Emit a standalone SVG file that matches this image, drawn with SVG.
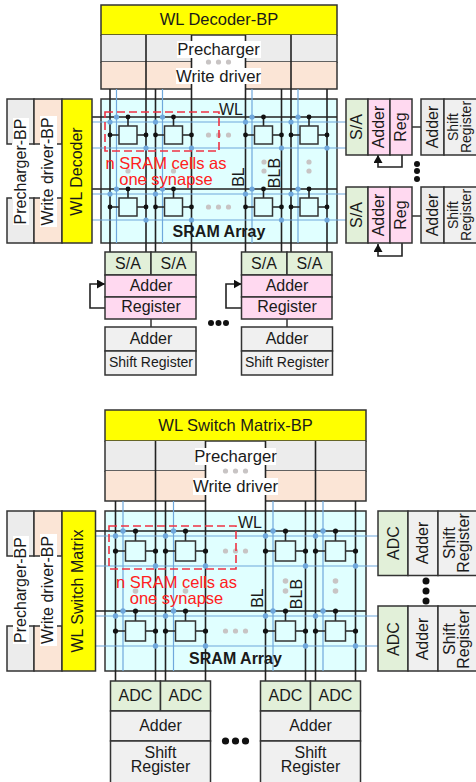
<svg xmlns="http://www.w3.org/2000/svg" width="476" height="782" viewBox="0 0 476 782">
<style>
text{font-family:"Liberation Sans",Arial,sans-serif;fill:#1a1a1a;font-size:16px;text-anchor:middle;dominant-baseline:central}
.box{stroke:#333;stroke-width:1.5}
.y{fill:#ffff00}.g{fill:#ececec}.p{fill:#fbe5d6}.gn{fill:#e2f0d9}.pk{fill:#ffd9f0}.c{fill:#e0ffff}.lg{fill:#f0f0f0}.w{fill:#fff}
.ln{stroke:#333;stroke-width:1.5;fill:none}
.bk{stroke:#222;stroke-width:1.6;fill:none}
.bl{stroke:#6fa8dc;stroke-width:1.2;fill:none}
.bd{fill:#6fa8dc}.kd{fill:#111}.gd{fill:#c8c4c4}
.red{fill:#ff2020;font-size:16.5px}
.rd{fill:none;stroke:#ee3344;stroke-width:1.6;stroke-dasharray:8 4}
.s14{font-size:14px}
.h{font-size:16.5px}
.m{font-size:16.7px}
.b{font-weight:bold}
</style>
<defs>
<marker id="arr" markerUnits="userSpaceOnUse" markerWidth="9" markerHeight="9" refX="8" refY="4.5" orient="auto"><path d="M0 0L8 4.5L0 9Z" fill="#111"/></marker>
<g id="cellA"><path class="bk" d="M0-18V-9M-18 0H-9M9 0H18"/><rect x="-9" y="-9" width="18" height="18" fill="#e0ffff" stroke="#333" stroke-width="1.5"/><circle class="kd" cx="0" cy="-18" r="2.4"/><circle class="kd" cx="-18" cy="0" r="2.4"/><circle class="kd" cx="18" cy="0" r="2.4"/></g>
<g id="cellB"><path class="bk" d="M0-20V-10M-20 0H-10M10 0H20"/><rect x="-10" y="-10" width="20" height="20" fill="#e0ffff" stroke="#333" stroke-width="1.5"/><circle class="kd" cx="0" cy="-20" r="2.6"/><circle class="kd" cx="-20" cy="0" r="2.6"/><circle class="kd" cx="20" cy="0" r="2.6"/></g>
<g id="hdotsA"><circle class="gd" cx="-10" cy="0" r="2.6"/><circle class="gd" cx="0" cy="0" r="2.6"/><circle class="gd" cx="10" cy="0" r="2.6"/></g>
<g id="blueA"><circle class="bd" cx="116.5" cy="0" r="2.6"/><circle class="bd" cx="162.5" cy="0" r="2.6"/><circle class="bd" cx="252" cy="0" r="2.6"/><circle class="bd" cx="298" cy="0" r="2.6"/><circle class="bd" cx="110" cy="5" r="2.6"/><circle class="bd" cx="155.5" cy="5" r="2.6"/><circle class="bd" cx="245.5" cy="5" r="2.6"/><circle class="bd" cx="291" cy="5" r="2.6"/><circle class="bd" cx="146" cy="31" r="2.6"/><circle class="bd" cx="191.5" cy="31" r="2.6"/><circle class="bd" cx="281.5" cy="31" r="2.6"/><circle class="bd" cx="327" cy="31" r="2.6"/></g>
<g id="blueB"><circle class="bd" cx="123" cy="0" r="2.7"/><circle class="bd" cx="173.5" cy="0" r="2.7"/><circle class="bd" cx="273" cy="0" r="2.7"/><circle class="bd" cx="323" cy="0" r="2.7"/><circle class="bd" cx="115.5" cy="5" r="2.7"/><circle class="bd" cx="165.5" cy="5" r="2.7"/><circle class="bd" cx="265.5" cy="5" r="2.7"/><circle class="bd" cx="315.5" cy="5" r="2.7"/><circle class="bd" cx="155.5" cy="35" r="2.7"/><circle class="bd" cx="205.5" cy="35" r="2.7"/><circle class="bd" cx="305.5" cy="35" r="2.7"/><circle class="bd" cx="355.5" cy="35" r="2.7"/></g>
</defs>

<!-- TOP DIAGRAM: backgrounds -->
<g id="top-array"><rect class="box c" x="101" y="99" width="236" height="144"/></g>
<g id="top-wl-decoder-bp"><rect class="box y" x="101" y="5" width="236" height="30"/></g>
<g id="top-precharger">
<rect class="g" x="101" y="35" width="91" height="27"/><rect class="g" x="245.5" y="35" width="91.5" height="27"/>
<path class="ln" d="M101 35V62H192M337 35V62H245.5"/></g>
<g id="top-write-driver">
<rect class="p" x="101" y="62" width="91" height="27"/><rect class="p" x="245.5" y="62" width="91.5" height="27"/>
<path class="ln" d="M101 62V89H192M337 62V89H245.5"/></g>

<!-- TOP connectors -->
<g id="top-connectors">
<path class="bk" d="M146 35V252M191.5 35V252M245.5 35V252M291 35V252M110 89V252M155.5 89V252M281.5 89V252M327 89V252"/>
<path class="bk" d="M92 117H337M92 189H337"/>
<path class="bl" d="M116.5 89V243M162.5 89V243M252 89V243M298 89V243"/>
<path class="bl" d="M92 122H346M92 148H346M92 194H346M92 220H346"/>
<use href="#blueA" y="117"/><use href="#blueA" y="189"/>
<path class="ln" d="M412 127H421M412 216H421M151 319V327M287 319V327"/>
<path class="bk" marker-end="url(#arr)" d="M402 155V167H378V155"/>
<path class="bk" marker-end="url(#arr)" d="M402 243V256H378V244"/>
<path class="bk" marker-end="url(#arr)" d="M105 308H90V284H105"/>
<path class="bk" marker-end="url(#arr)" d="M241.5 308H226V284H241.5"/>
</g>

<g id="top-cells">
<use href="#cellA" x="128" y="135"/><use href="#cellA" x="173.5" y="135"/><use href="#cellA" x="263.5" y="135"/><use href="#cellA" x="309" y="135"/>
<use href="#cellA" x="128" y="207"/><use href="#cellA" x="173.5" y="207"/><use href="#cellA" x="263.5" y="207"/><use href="#cellA" x="309" y="207"/>
<use href="#hdotsA" x="218.5" y="135"/><use href="#hdotsA" x="218.5" y="207"/>
<circle class="gd" cx="128" cy="171" r="2.6"/><circle class="gd" cx="173.5" cy="171" r="2.6"/>
<circle class="gd" cx="264" cy="162" r="2.6"/><circle class="gd" cx="264" cy="171" r="2.6"/><circle class="gd" cx="309" cy="162" r="2.6"/><circle class="gd" cx="309" cy="171" r="2.6"/>
</g>
<g id="top-synapse">
<rect class="rd" x="105" y="112" width="114" height="39"/>
<text class="red" x="166" y="162.5">n SRAM cells as</text>
<text class="red" x="166" y="179">one synapse</text>
</g>
<g id="top-labels">
<text x="231" y="109">WL</text>
<text x="238" y="177" transform="rotate(-90 238 177)">BL</text>
<text x="274" y="173" transform="rotate(-90 274 173)">BLB</text>
<text class="b" x="219" y="231">SRAM Array</text>
<rect class="w" x="177" y="41" width="84" height="17"/>
<rect class="w" x="176" y="68" width="85" height="16"/>
<use href="#hdotsA" x="218.5" y="62"/>
<text class="m" x="218.5" y="49">Precharger</text>
<text class="m" x="218.5" y="76">Write driver</text>
<text class="h" x="219" y="19">WL Decoder-BP</text>
</g>

<g id="top-precharger-bp">
<path class="g box" d="M12 144H7V99H34V144H29" /><path class="g box" d="M12 198H7V243H34V198H29"/>
<rect class="w" x="13" y="118" width="16" height="107"/>
<text x="20" y="171.5" transform="rotate(-90 20 171.5)">Precharger-BP</text>
</g>
<g id="top-write-driver-bp">
<path class="p box" d="M40 144H34V99H62V144H57"/><path class="p box" d="M40 198H34V243H62V198H57"/>
<rect class="w" x="40" y="116" width="17" height="111"/>
<text x="47" y="171.5" transform="rotate(-90 47 171.5)">Write driver-BP</text>
</g>
<g id="top-wl-decoder"><rect class="box y" x="62" y="99" width="30" height="144"/><text x="76" y="171.5" transform="rotate(-90 76 171.5)">WL Decoder</text></g>

<g id="top-right-1">
<rect class="box gn" x="346" y="99" width="22" height="56"/><rect class="box pk" x="368" y="99" width="22" height="56"/><rect class="box pk" x="390" y="99" width="22" height="56"/>
<text x="356" y="127" transform="rotate(-90 356 127)">S/A</text><text x="378" y="127" transform="rotate(-90 378 127)">Adder</text><text x="400" y="127" transform="rotate(-90 400 127)">Reg</text>
<rect class="box g" x="421" y="99" width="23" height="56"/><rect class="box lg" x="444" y="99" width="34" height="56"/>
<text x="432" y="127" transform="rotate(-90 432 127)">Adder</text>
<text class="s14" x="453" y="127" transform="rotate(-90 453 127)">Shift</text><text class="s14" x="466" y="127" transform="rotate(-90 466 127)">Register</text>
</g>
<g id="top-right-2">
<rect class="box gn" x="346" y="187" width="22" height="56"/><rect class="box pk" x="368" y="187" width="22" height="56"/><rect class="box pk" x="390" y="187" width="22" height="56"/>
<text x="356" y="215" transform="rotate(-90 356 215)">S/A</text><text x="378" y="215" transform="rotate(-90 378 215)">Adder</text><text x="400" y="215" transform="rotate(-90 400 215)">Reg</text>
<rect class="box g" x="421" y="187" width="23" height="56"/><rect class="box lg" x="444" y="187" width="34" height="56"/>
<text x="432" y="215" transform="rotate(-90 432 215)">Adder</text>
<text class="s14" x="453" y="215" transform="rotate(-90 453 215)">Shift</text><text class="s14" x="466" y="215" transform="rotate(-90 466 215)">Register</text>
</g>
<g id="top-right-dots"><circle class="kd" cx="417" cy="164" r="3"/><circle class="kd" cx="417" cy="171" r="3"/><circle class="kd" cx="417" cy="179" r="3"/></g>

<g id="top-bottom-1">
<rect class="box gn" x="105" y="252" width="46" height="23"/><rect class="box gn" x="151" y="252" width="45" height="23"/>
<rect class="box pk" x="105" y="275" width="91" height="22"/><rect class="box pk" x="105" y="297" width="91" height="22"/>
<rect class="box lg" x="105" y="327" width="91" height="24"/><rect class="box lg" x="105" y="351" width="91" height="24"/>
<text x="128" y="263.5">S/A</text><text x="173.5" y="263.5">S/A</text><text x="151" y="285.5">Adder</text><text x="151" y="306.5">Register</text><text x="151" y="338.5">Adder</text><text class="s14" x="151" y="362">Shift Register</text>
</g>
<g id="top-bottom-2">
<rect class="box gn" x="241.5" y="252" width="45.5" height="23"/><rect class="box gn" x="287" y="252" width="45" height="23"/>
<rect class="box pk" x="241.5" y="275" width="90.5" height="22"/><rect class="box pk" x="241.5" y="297" width="90.5" height="22"/>
<rect class="box lg" x="241.5" y="327" width="91" height="24"/><rect class="box lg" x="241.5" y="351" width="91" height="24"/>
<text x="264" y="263.5">S/A</text><text x="309.5" y="263.5">S/A</text><text x="287" y="285.5">Adder</text><text x="287" y="306.5">Register</text><text x="287" y="338.5">Adder</text><text class="s14" x="287" y="362">Shift Register</text>
</g>
<g id="top-bottom-dots"><circle class="kd" cx="211" cy="323" r="3"/><circle class="kd" cx="218.5" cy="323" r="3"/><circle class="kd" cx="226" cy="323" r="3"/></g>

<!-- BOTTOM DIAGRAM -->
<g id="bot-array"><rect class="box c" x="105" y="511" width="261" height="160"/></g>
<g id="bot-wl-bp"><rect class="box y" x="105" y="410" width="261" height="31"/></g>
<g id="bot-precharger">
<rect class="g" x="105" y="441" width="100.5" height="30"/><rect class="g" x="265.5" y="441" width="100.5" height="30"/>
<path class="ln" d="M105 441V471H205.5M366 441V471H265.5"/></g>
<g id="bot-write-driver">
<rect class="p" x="105" y="471" width="100.5" height="30"/><rect class="p" x="265.5" y="471" width="100.5" height="30"/>
<path class="ln" d="M105 471V501H205.5M366 471V501H265.5"/></g>

<g id="bot-connectors">
<path class="bk" d="M155.5 441V681M205.5 441V681M265.5 441V681M315.5 441V681M115.5 501V681M165.5 501V681M305.5 501V681M355.5 501V681"/>
<path class="bk" d="M95 531H366M95 611H366"/>
<path class="bl" d="M123 501V671M173.5 501V671M273 501V671M323 501V671"/>
<path class="bl" d="M95 536H378M95 566H378M95 616H378M95 646H378"/>
<use href="#blueB" y="531"/><use href="#blueB" y="611"/>
</g>
<g id="bot-cells">
<use href="#cellB" x="135.5" y="551"/><use href="#cellB" x="185.5" y="551"/><use href="#cellB" x="285.5" y="551"/><use href="#cellB" x="335.5" y="551"/>
<use href="#cellB" x="135.5" y="631"/><use href="#cellB" x="185.5" y="631"/><use href="#cellB" x="285.5" y="631"/><use href="#cellB" x="335.5" y="631"/>
<use href="#hdotsA" x="235.5" y="551"/><use href="#hdotsA" x="235.5" y="631"/>
<circle class="gd" cx="135.5" cy="591" r="2.8"/><circle class="gd" cx="185.5" cy="591" r="2.8"/>
<circle class="gd" cx="285.5" cy="581" r="2.8"/><circle class="gd" cx="285.5" cy="591" r="2.8"/><circle class="gd" cx="335.5" cy="581" r="2.8"/><circle class="gd" cx="335.5" cy="591" r="2.8"/>
</g>
<g id="bot-synapse">
<rect class="rd" x="109" y="526" width="127" height="43"/>
<text class="red" x="176.5" y="581.5">n SRAM cells as</text>
<text class="red" x="176.5" y="598">one synapse</text>
</g>
<g id="bot-labels">
<text x="250" y="522">WL</text>
<text x="257" y="598" transform="rotate(-90 257 598)">BL</text>
<text x="296" y="594" transform="rotate(-90 296 594)">BLB</text>
<text class="b" x="235.5" y="658">SRAM Array</text>
<rect class="w" x="195" y="448" width="81" height="17"/>
<rect class="w" x="193" y="478" width="85" height="17"/>
<use href="#hdotsA" x="235.5" y="471"/>
<text class="m" x="235.5" y="456">Precharger</text>
<text class="m" x="235.5" y="486">Write driver</text>
<text class="h" x="235.5" y="424.5">WL Switch Matrix-BP</text>
</g>

<g id="bot-precharger-bp">
<path class="g box" d="M13 556H7V511H34V556H29"/><path class="g box" d="M13 626H7V671H34V626H29"/>
<rect class="w" x="13" y="536" width="16" height="108"/>
<text x="20" y="590" transform="rotate(-90 20 590)">Precharger-BP</text>
</g>
<g id="bot-write-driver-bp">
<path class="p box" d="M40 556H34V511H62V556H57"/><path class="p box" d="M40 626H34V671H62V626H57"/>
<rect class="w" x="40" y="534" width="17" height="112"/>
<text x="47" y="590" transform="rotate(-90 47 590)">Write driver-BP</text>
</g>
<g id="bot-wl-switch"><rect class="box y" x="62" y="511" width="33.5" height="160"/><text x="77" y="591" transform="rotate(-90 77 591)">WL Switch Matrix</text></g>

<g id="bot-right-1">
<rect class="box gn" x="378" y="511" width="30" height="64.5"/><rect class="box lg" x="408" y="511" width="30" height="64.5"/><rect class="box lg" x="438" y="511" width="40" height="64.5"/>
<text x="393" y="543" transform="rotate(-90 393 543)">ADC</text><text x="422" y="543" transform="rotate(-90 422 543)">Adder</text>
<text x="449" y="543" transform="rotate(-90 449 543)">Shift</text><text x="463" y="543" transform="rotate(-90 463 543)">Register</text>
</g>
<g id="bot-right-2">
<rect class="box gn" x="378" y="606" width="30" height="65"/><rect class="box lg" x="408" y="606" width="30" height="65"/><rect class="box lg" x="438" y="606" width="40" height="65"/>
<text x="393" y="639" transform="rotate(-90 393 639)">ADC</text><text x="422" y="639" transform="rotate(-90 422 639)">Adder</text>
<text x="449" y="639" transform="rotate(-90 449 639)">Shift</text><text x="463" y="639" transform="rotate(-90 463 639)">Register</text>
</g>
<g id="bot-right-dots"><circle class="kd" cx="426" cy="581" r="3.5"/><circle class="kd" cx="426" cy="591" r="3.5"/><circle class="kd" cx="426" cy="601" r="3.5"/></g>

<g id="bot-bottom-1">
<rect class="box gn" x="110.5" y="681" width="50" height="30"/><rect class="box gn" x="160.5" y="681" width="50" height="30"/>
<rect class="box lg" x="110.5" y="711" width="100" height="30"/><rect class="box lg" x="110.5" y="741" width="100" height="42"/>
<text x="135.5" y="695.5">ADC</text><text x="185.5" y="695.5">ADC</text><text x="160.5" y="725.5">Adder</text><text x="160.5" y="752">Shift<tspan x="160.5" dy="14">Register</tspan></text>
</g>
<g id="bot-bottom-2">
<rect class="box gn" x="260.5" y="681" width="50" height="30"/><rect class="box gn" x="310.5" y="681" width="50" height="30"/>
<rect class="box lg" x="260.5" y="711" width="100" height="30"/><rect class="box lg" x="260.5" y="741" width="100" height="42"/>
<text x="285.5" y="695.5">ADC</text><text x="335.5" y="695.5">ADC</text><text x="310.5" y="725.5">Adder</text><text x="310.5" y="752">Shift<tspan x="310.5" dy="14">Register</tspan></text>
</g>
<g id="bot-bottom-dots"><circle class="kd" cx="225.5" cy="741" r="3.6"/><circle class="kd" cx="235.5" cy="741" r="3.6"/><circle class="kd" cx="245.5" cy="741" r="3.6"/></g>
</svg>
